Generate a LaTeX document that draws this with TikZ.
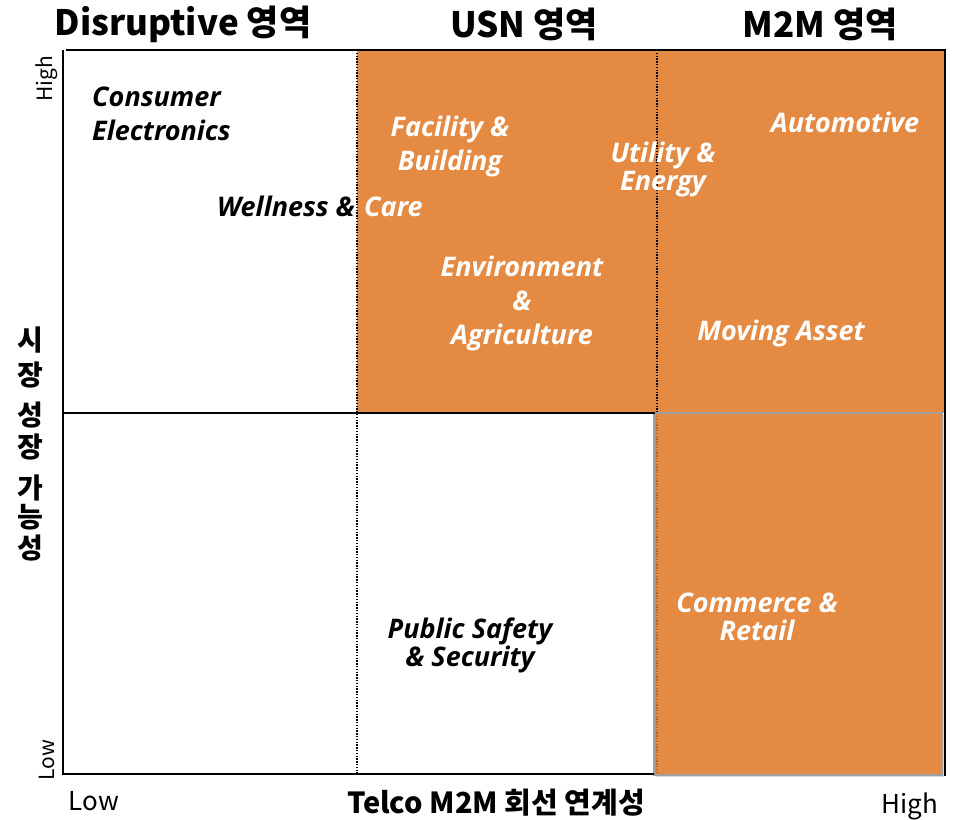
\documentclass[tikz,border=0pt]{standalone}
\usepackage{fontspec}
\setmainfont{Open Sans}
\newfontfamily\krfont{Noto Sans CJK KR}
\usepackage{tikz}
\usetikzlibrary{positioning}
\usetikzlibrary{shadows}

\definecolor{orng}{RGB}{228,138,67}
\definecolor{boxgray}{RGB}{160,160,160}

\begin{document}
\begin{tikzpicture}[x=1pt,y=-1pt,node distance=31pt,
	area node/.style={font=\krfont\bfseries\fontsize{35}{40}\selectfont,inner sep=0pt},
	axis node/.style={font=\krfont\fontsize{26}{30}\selectfont,inner sep=0pt},
	tick node/.style={font=\krfont\fontsize{21}{24}\selectfont,inner sep=0pt,rotate=90},
	char node/.style={font=\krfont\bfseries\fontsize{28}{30}\selectfont,inner sep=0pt},
	item node/.style={font=\bfseries\itshape\fontsize{27}{34}\selectfont,align=center,inner sep=0pt},
	tight/.style={font=\bfseries\itshape\fontsize{27}{28}\selectfont},
	black item/.style={item node,text=black},
	white item/.style={item node,text=white}]
	
	\useasboundingbox (0,0) rectangle (958,819);
	
	% quadrants
	\fill[orng] (357,50) rectangle (945,413);
	\filldraw[fill=orng,draw=boxgray,line width=1.5pt,
	drop shadow={opacity=0.3,shadow xshift=2pt,shadow yshift=-2pt}]
	(654,413) rectangle (942,775);
	
	% axes
	\draw[line width=1.8pt] (66,50) -- (945,50) -- (945,776);
	\draw[line width=1.8pt] (63,50) -- (63,774) -- (654,774);
	\draw[line width=1.8pt] (63,413) -- (655,413);
	\draw[line width=1.4pt,dash pattern=on 1.4pt off 1.4pt] (357,50) -- (357,774);
	\draw[line width=1.4pt,dash pattern=on 1.4pt off 1.4pt] (657,50) -- (657,412);
	\draw[orng!75!black,line width=1.2pt,dash pattern=on 1.4pt off 1.4pt] (657,416) -- (657,773);
	
	\node[area node] (dis) at (183,24) {Disruptive 영역};
	\node[area node] (usn) at (524,24) {USN 영역};
	\node[area node] (m2m) at (820,24) {M2M 영역};
	
	\node[tick node] (yhigh) at (47,79) {High};
	\node[tick node] (ylow) at (47,760) {Low};
	\node[axis node] (xlow) at (94,801) {Low};
	\node[axis node,anchor=base] (xhigh) at (910,813) {High};
	\node[char node,font=\krfont\bfseries\fontsize{29}{32}\selectfont] (xtitle) at (496,803) {Telco M2M 회선 연계성};
	
	\node[char node] (c1) at (30,340) {시};
	\node[char node] (c2) [below of=c1,node distance=35pt] {장};
	\node[char node] (c3) [below of=c2,node distance=40pt] {성};
	\node[char node] (c4) [below of=c3,node distance=32pt] {장};
	\node[char node] (c5) [below of=c4,node distance=41pt] {가};
	\node[char node] (c6) [below of=c5,node distance=29pt] {능};
	\node[char node] (c7) [below of=c6,node distance=31pt] {성};
	
	\node[black item,align=left,anchor=west] (ce) at (92,114) {Consumer\\Electronics};
	\node[black item,anchor=base east] (wel) at (355,216) {Wellness \&};
	\node[white item] (care) [base right=9pt of wel] {Care};
	\node[white item] (fac) at (450,146) {Facility \&\\Building};
	\node[white item,tight] (util) at (663,169) {Utility \&\\Energy};
	\node[white item] (auto) at (845,122) {Automotive};
	\node[white item] (env) at (522,303) {Environment\\\&\\Agriculture};
	\node[white item] (mov) at (781,333) {Moving Asset};
	\node[black item,tight] (pub) at (470,645) {Public Safety\\\& Security};
	\node[white item,tight] (com) at (757,617) {Commerce \&\\Retail};
\end{tikzpicture}
\end{document}
